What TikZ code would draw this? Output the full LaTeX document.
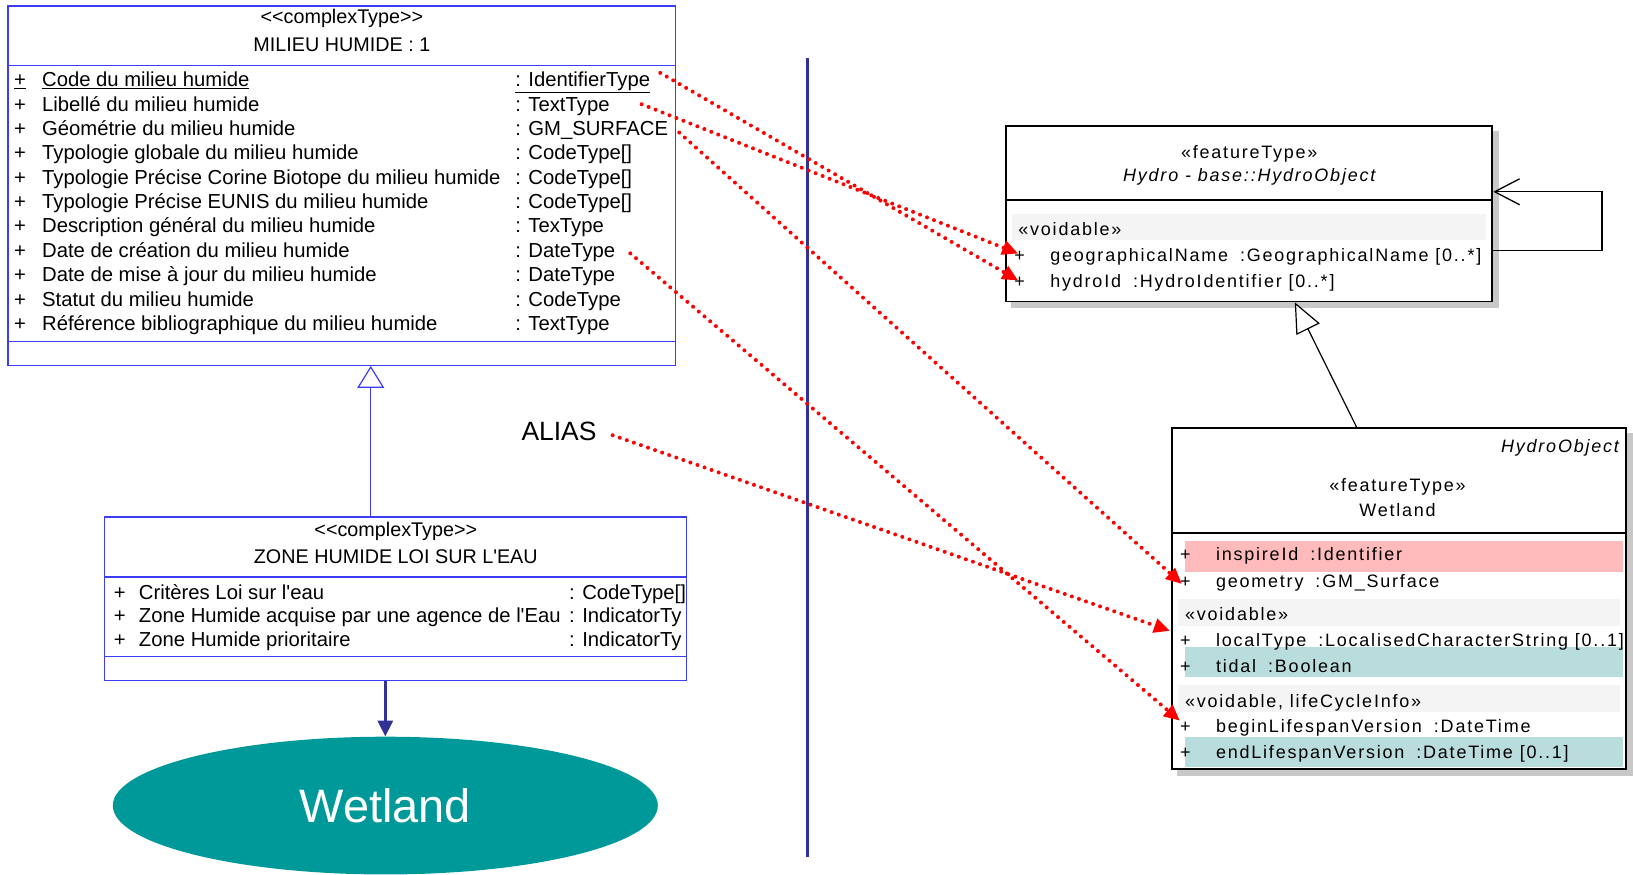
\documentclass[tikz,border=0pt]{standalone}
\usepackage{fontspec}
\setmainfont{Liberation Sans}
\newfontfamily\umlfont[LetterSpace=10]{Liberation Sans}
\usetikzlibrary{arrows.meta, positioning, shapes.geometric, calc, backgrounds}

\definecolor{umlblue}{RGB}{60,60,245}
\definecolor{divblue}{RGB}{50,50,150}
\definecolor{wetteal}{RGB}{0,153,153}
\definecolor{pinkrow}{RGB}{255,187,187}
\definecolor{tealrow}{RGB}{185,220,220}
\definecolor{grayrow}{RGB}{244,244,244}
\definecolor{shadowgray}{RGB}{200,200,200}

\newcommand{\lefttext}{\fontsize{19.8}{22}\selectfont}
\newcommand{\rowtext}{\fontsize{20.3}{22}\selectfont}
\newcommand{\righttext}{\umlfont\fontsize{18}{20}\selectfont}

\begin{document}
\begin{tikzpicture}[x=1pt, y=-1pt,
    classbox/.style={draw=umlblue, line width=1.2pt, fill=white, inner sep=0pt},
    featbox/.style={draw=black, line width=1.8pt, fill=white, inner sep=0pt},
    attr/.style={font=\rowtext, inner sep=0pt, anchor=west, text height=14pt, text depth=0pt},
    title/.style={font=\lefttext, inner sep=0pt, text height=14pt, text depth=0pt},
    rattr/.style={font=\righttext, inner sep=0pt, anchor=west, text height=13pt, text depth=0pt},
    rtitle/.style={font=\righttext, inner sep=0pt, text height=13pt, text depth=0pt},
    umlgen/.style={draw=umlblue, line width=1.2pt, -{Triangle[open, length=22pt, width=27pt, fill=white]}},
    featgen/.style={draw=black, line width=1.2pt, -{Triangle[open, length=30pt, width=26pt, fill=white]}},
    selfassoc/.style={draw=black, line width=1.3pt, -{Straight Barb[length=25pt, width=26pt]}},
    flow/.style={draw=divblue, line width=3.5pt, -{Triangle[length=16pt, width=15pt]}},
    divider/.style={draw=divblue, line width=3pt},
    link/.style={draw=red, line width=4pt, line cap=round, dash pattern=on 0pt off 7.5pt, -{Triangle[length=16pt, width=14pt]}}
  ]
  % left side: complex types
  \node[classbox, minimum width=669, minimum height=360] (milieu) at (342.5,186) {};
  \draw[umlblue, line width=1.2pt] (8,66) -- (677,66) (8,342) -- (677,342);
  \node[title] (milieutype) at (342.5,16.5) {<\kern0pt<complexType>\kern0pt>};
  \node[title] (milieuname) at (342.5,44.5) {MILIEU HUMIDE : 1};
  \node[attr] (mp1) at (14,80) {\underline{+}};
  \node[attr] (mn1) at (42,80) {\underline{Code du milieu humide}};
  \node[attr] (mt1) at (516,80) {\underline{: IdentifierType}};
  \foreach \n/\t [count=\i from 2] in {Libellé du milieu humide/TextType,
      Géométrie du milieu humide/GM\_SURFACE,
      Typologie globale du milieu humide/CodeType[],
      Typologie Précise Corine Biotope du milieu humide/CodeType[],
      Typologie Précise EUNIS du milieu humide/CodeType[],
      Description général du milieu humide/TexType,
      Date de création du milieu humide/DateType,
      Date de mise à jour du milieu humide/DateType,
      Statut du milieu humide/CodeType,
      Référence bibliographique du milieu humide/TextType}
  {
    \node[attr] (mp\i) at (14,{80+24.4*(\i-1)}) {+};
    \node[attr] (mn\i) at (42,{80+24.4*(\i-1)}) {\n};
    \node[attr] (mt\i) at (516,{80+24.4*(\i-1)}) {: \t};
  }

  \node[classbox, minimum width=583, minimum height=164] (zone) at (396.5,600) {};
  \draw[umlblue, line width=1.2pt] (105,578) -- (688,578) (105,658) -- (688,658);
  \node[title] (zonetype) at (396.5,530) {<\kern0pt<complexType>\kern0pt>};
  \node[title] (zonename) at (396.5,557) {ZONE HUMIDE LOI SUR L\textquotesingle EAU};
  \foreach \n/\t [count=\i] in {Critères Loi sur l\textquotesingle eau/CodeType[],
      Zone Humide acquise par une agence de l\textquotesingle Eau/IndicatorTy,
      Zone Humide prioritaire/IndicatorTy}
  {
    \node[attr] (zp\i) at (114,{593.5+23.5*(\i-1)}) {+};
    \node[attr] (zn\i) at (139,{593.5+23.5*(\i-1)}) {\n};
    \node[attr] (zt\i) at (570,{593.5+23.5*(\i-1)}) {: \t};
  }

  \node[ellipse, fill=wetteal, minimum width=546, minimum height=138, inner sep=0pt,
    text=white, font=\fontsize{47}{50}\selectfont] (wetland) at (386,807) {Wetland};
  \node[inner sep=0pt, text height=19pt, text depth=0pt,
    font=\fontsize{26.5}{28}\selectfont] (alias) at (560,432) {ALIAS};

  \draw[umlgen] ($(zone.north west)+(267,0)$) -- ($(milieu.south west)+(364,0)$);
  \draw[flow] (wetland.north |- zone.south) -- (wetland.north);

  \draw[divider] (809,58) -- (809,859);

  % right side: INSPIRE feature types
  \node[featbox, minimum width=487, minimum height=176] (hydro) at (1251.5,214) {};
  \fill[grayrow] (1014,214) rectangle (1489,240);
  \draw[black, line width=1.8pt] (1008,200) -- (1495,200);
  \node[rtitle] (hydrotype) at (1251.5,152) {«featureType»};
  \node[rtitle, font=\righttext\itshape] (hydroname) at (1251.5,175) {Hydro - base::HydroObject};
  \node[rattr] (hydrovoid) at (1020,229) {«voidable»};
  \node[rattr] (hp1) at (1016,255) {+};
  \node[rattr] (hn1) at (1052,255) {geographicalName\hspace{12pt}:GeographicalName [0..*]};
  \node[rattr] (hp2) at (1016,282) {+};
  \node[rattr] (hn2) at (1052,282) {hydroId\hspace{12pt}:HydroIdentifier [0..*]};

  \node[featbox, minimum width=455, minimum height=341] (wet) at (1401.5,599.5) {};
  \fill[pinkrow] (1187,542) rectangle (1626,573);
  \fill[grayrow] (1180,600) rectangle (1623,627);
  \fill[tealrow] (1187,648) rectangle (1626,678);
  \fill[grayrow] (1180,686) rectangle (1623,713);
  \fill[tealrow] (1187,738) rectangle (1626,768);
  \draw[black, line width=1.8pt] (1174,534) -- (1629,534);
  \node[rtitle, anchor=east, font=\righttext\itshape] (wetparent) at (1622,447) {HydroObject};
  \node[rtitle] (wettype) at (1400,486) {«featureType»};
  \node[rtitle] (wetname) at (1400,511) {Wetland};
  \node[rattr] (wetvoid) at (1187,615) {«voidable»};
  \node[rattr] (wetcycle) at (1187,702) {«voidable, lifeCycleInfo»};
  \foreach \y/\n/\t [count=\i] in {555/inspireId/Identifier, 582/geometry/GM\_Surface,
      641/localType/LocalisedCharacterString [0..1], 667/tidal/Boolean,
      727/beginLifespanVersion/DateTime, 753/endLifespanVersion/DateTime [0..1]}
  {
    \node[rattr] (wp\i) at (1182,\y) {+};
    \node[rattr] (wn\i) at (1218,\y) {\n\hspace{12pt}:\t};
  }

  \begin{scope}[on background layer]
    \fill[white] (0,0) rectangle (1633,873);
    \fill[shadowgray] ($(hydro.south west)+(6,6)$) rectangle ($(hydro.north east)+(6,6)$);
    \fill[shadowgray] ($(wet.south west)+(6,6)$) rectangle ($(wet.north east)+(6,6)$);
  \end{scope}

  \draw[featgen] ($(wet.north west)+(186,0)$) -- ($(hydro.south west)+(290,0)$);
  \draw[selfassoc] ($(hydro.north east)+(0,126)$) -- ++(109,0) |- ($(hydro.north east)+(0,67)$);

  % mapping links
  \draw[link] ($(mt1.east)+(10,-7)$) -- ($(hp2.west)+(4,-1)$);
  \draw[link] ($(mt2.east)+(32,0)$) -- ($(hp1.west)+(4,-1)$);
  \draw[link] ($(mt3.east)+(11,4)$) -- ($(wp2.west)+(2,3)$);
  \draw[link] ($(mt8.east)+(15,3)$) -- ($(wp5.west)+(0,-5)$);
  \draw[link] ($(alias.east)+(16,4)$) -- ($(wp3.west)+(-10,-9)$);

  \useasboundingbox (0,0) rectangle (1633,873);
\end{tikzpicture}
\end{document}
